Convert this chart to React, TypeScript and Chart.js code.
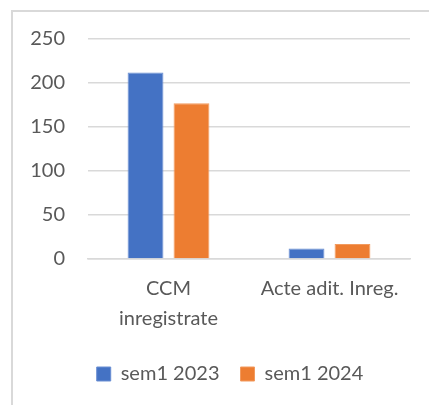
import React, { useEffect, useRef } from "react";
import { Chart, registerables } from "chart.js";

Chart.register(...registerables);

const categories: (string | string[])[] = [["CCM", "inregistrate"], "Acte adit. Inreg."];
const seriesNames = ["sem1 2023", "sem1 2024"];
const sem2023 = [212, 12];
const sem2024 = [177, 17];
const yTicks = [0, 50, 100, 150, 200, 250];

const BLUE = "#4472C4";
const ORANGE = "#ED7D31";
const TEXT = "#595959";
const GRID = "#D9D9D9";
const FONT = "Lato";

const legendShift = {
  id: "legendShift",
  afterLayout(chart: any) {
    const lg = chart.legend;
    if (!lg) return;
    lg.left += 15;
    lg.right += 15;
    lg.top -= 6;
    lg.bottom -= 6;
  },
};

export default function App() {
  const ref = useRef<HTMLCanvasElement | null>(null);

  useEffect(() => {
    if (!ref.current) return;
    const chart = new Chart(ref.current, {
      type: "bar",
      data: {
        labels: categories,
        datasets: [
          {
            label: seriesNames[0],
            data: sem2023,
            backgroundColor: BLUE,
            borderColor: "#6A8FD3",
            borderWidth: 1,
            categoryPercentage: 0.571,
            barPercentage: 0.78,
          },
          {
            label: seriesNames[1],
            data: sem2024,
            backgroundColor: ORANGE,
            borderColor: "#F29A5E",
            borderWidth: 1,
            categoryPercentage: 0.571,
            barPercentage: 0.78,
          },
        ],
      },
      options: {
        animation: false,
        responsive: false,
        maintainAspectRatio: false,
        layout: { padding: { left: 20, right: 19, top: 39, bottom: 5 } },
        scales: {
          y: {
            min: yTicks[0],
            max: yTicks[yTicks.length - 1],
            afterFit: (scale: any) => {
              scale.width = 68;
            },
            afterBuildTicks: (scale: any) => {
              scale.ticks = yTicks.map((v) => ({ value: v }));
            },
            ticks: {
              stepSize: 50,
              padding: 23,
              color: TEXT,
              font: { family: FONT, size: 20 },
            },
            grid: { color: GRID, lineWidth: 1.5, drawTicks: false },
            border: { display: false },
          },
          x: {
            ticks: {
              padding: 15,
              color: TEXT,
              font: { family: FONT, size: 20, lineHeight: 1.5 },
              maxRotation: 0,
              autoSkip: false,
            },
            grid: { display: false, drawTicks: false },
            border: { display: true, color: GRID, width: 1.5 },
          },
        },
        plugins: {
          legend: {
            position: "bottom",
            labels: {
              boxWidth: 14,
              boxHeight: 14,
              padding: 21,
              color: TEXT,
              font: { family: FONT, size: 20 },
            },
          },
          tooltip: { enabled: false },
        },
      },
      plugins: [legendShift],
    });
    return () => chart.destroy();
  }, []);

  return (
    <div style={{ position: "fixed", left: 0, top: 0, width: 429, height: 405, background: "#fff" }}>
      <div
        style={{
          position: "absolute",
          left: 11,
          top: 10,
          right: 0,
          bottom: 0,
          borderLeft: "2px solid #D9D9D9",
          borderTop: "2px solid #D9D9D9",
        }}
      />
      <canvas ref={ref} width={429} height={405} style={{ position: "absolute", left: 0, top: 0 }} />
    </div>
  );
}
